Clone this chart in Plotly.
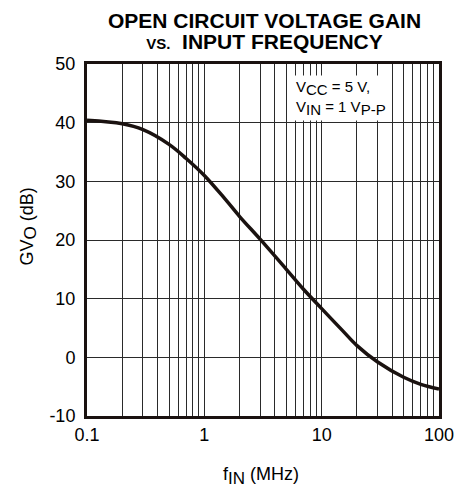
import plotly.graph_objects as go

freq_mhz = [0.1, 0.2, 0.3, 0.5, 0.7, 1.0, 1.5, 2.0, 3.0, 5.0, 7.0, 10, 15, 20, 30, 50, 70, 100]
gain_db = [40.4, 39.8, 38.8, 36.3, 33.9, 31.0, 27.0, 24.0, 20.1, 15.0, 11.6, 8.3, 4.6, 2.0, -0.8, -3.4, -4.6, -5.4]

x_tick_vals = [0.1, 1, 10, 100]
x_tick_text = ["0.1", "1", "10", "100"]
y_tick_vals = [-10, 0, 10, 20, 30, 40, 50]
y_tick_text = ["-10", "0", "10", "20", "30", "40", "50"]

font_family = "Liberation Sans, Arial, sans-serif"
ink = "#1a1210"
grid = "#2a2a2a"


def sub(s, size):
    return "<sub><span style='font-size:%dpx'>%s</span></sub>" % (size, s)


def sized(s, size):
    return "<span style='font-size:%dpx'>%s</span>" % (size, s)


fig = go.Figure()
fig.add_trace(go.Scatter(
    x=freq_mhz, y=gain_db, mode="lines",
    line=dict(color=ink, width=3.5, shape="spline", smoothing=1.0),
    showlegend=False, hoverinfo="skip",
))

title_text = ("<b>" + sized("OPEN CIRCUIT VOLTAGE GAIN", 21) + "<br>"
              + sized("VS.", 15) + sized("  INPUT FREQUENCY", 21) + "</b>")

fig.update_layout(
    width=458, height=479,
    margin=dict(l=79, r=24, t=56, b=71),
    paper_bgcolor="white", plot_bgcolor="white",
    font=dict(family=font_family, color="black"),
    xaxis=dict(
        type="log", range=[-1, 2],
        tickvals=x_tick_vals, ticktext=x_tick_text,
        tickfont=dict(size=18), ticks="", ticklabelstandoff=0,
        showgrid=True, gridcolor=grid, gridwidth=1,
        minor=dict(dtick="D1", showgrid=True, gridcolor=grid, gridwidth=1, ticks=""),
        showline=True, linecolor=ink, linewidth=3, mirror=True,
        zeroline=False,
    ),
    yaxis=dict(
        range=[-10, 50], tickvals=y_tick_vals, ticktext=y_tick_text,
        tickfont=dict(size=18), ticks="", ticklabelstandoff=5,
        showgrid=True, gridcolor=grid, gridwidth=1,
        showline=True, linecolor=ink, linewidth=3, mirror=True,
        zeroline=False,
    ),
    annotations=[
        dict(xref="paper", yref="paper", x=0.504, y=1.094, xanchor="center", yanchor="middle",
             text=title_text, showarrow=False,
             font=dict(size=16, family=font_family, color="black")),
        dict(xref="paper", yref="paper", x=0.493, y=-0.170, xanchor="center", yanchor="middle",
             text="f" + sub("IN", 17) + " (MHz)", showarrow=False,
             font=dict(size=18, family=font_family, color="black")),
        dict(xref="paper", yref="paper", x=-0.166, y=0.537, xanchor="center", yanchor="middle",
             text="GV" + sub("O", 17) + " (dB)", showarrow=False, textangle=-90,
             font=dict(size=18, family=font_family, color="black")),
        dict(xref="paper", yref="paper", x=0.586, y=0.969, xanchor="left", yanchor="top",
             text="V" + sub("CC", 15) + " = 5 V,<br>V" + sub("IN", 15) + " = 1 V" + sub("P-P", 15),
             showarrow=False, align="left", bgcolor="white",
             font=dict(size=15, family=font_family, color="black"), borderpad=2),
    ],
)

fig.write_html("out.html")
